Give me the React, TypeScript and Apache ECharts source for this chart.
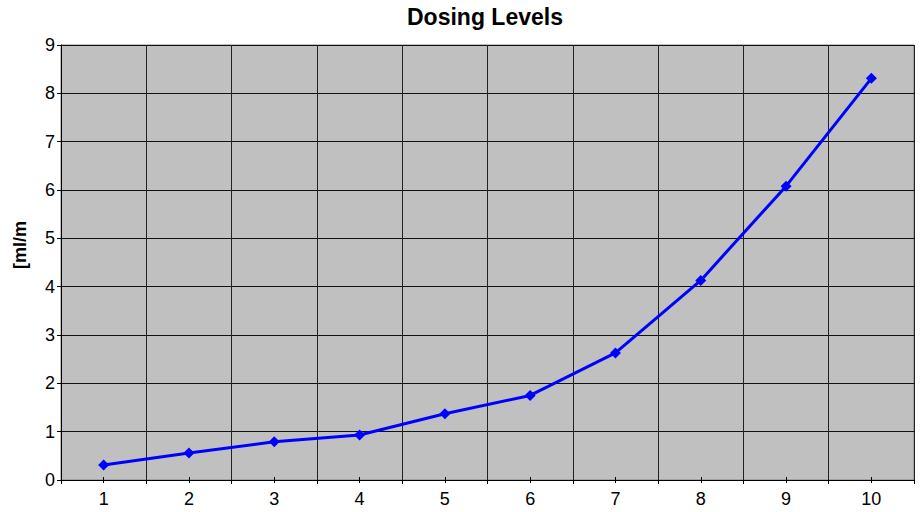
import React, { useEffect, useRef } from "react";
import * as echarts from "echarts";

const categories = ["1", "2", "3", "4", "5", "6", "7", "8", "9", "10"];
const dosing = [0.31, 0.56, 0.79, 0.93, 1.37, 1.75, 2.63, 4.13, 6.08, 8.31];
const titleText = "Dosing Levels";
const yAxisName = "[ml/m";

export default function App() {
  const ref = useRef<HTMLDivElement>(null);
  useEffect(() => {
    document.body.style.margin = "0";
    if (!ref.current) return;
    const chart = echarts.init(ref.current, undefined, { renderer: "svg" });
    const font = "Liberation Sans, Arial, sans-serif";
    chart.setOption({
      animation: false,
      backgroundColor: "#ffffff",
      textStyle: { fontFamily: font },
      title: {
        text: titleText,
        left: 402,
        top: 0,
        textStyle: { fontSize: 23, fontWeight: "bold", color: "#000", fontFamily: font },
      },
      graphic: [
        {
          type: "text",
          x: 20,
          y: 245,
          rotation: Math.PI / 2,
          style: {
            text: yAxisName,
            fontSize: 18,
            fontWeight: "bold",
            fontFamily: font,
            fill: "#000",
            textAlign: "center",
            textVerticalAlign: "middle",
          },
        },
      ],
      grid: {
        left: 61,
        right: 9,
        top: 45,
        bottom: 32,
        show: true,
        backgroundColor: "#C0C0C0",
        borderColor: "#808080",
        borderWidth: 1,
      },
      xAxis: [
        {
          type: "category",
          data: categories,
          boundaryGap: true,
          axisLine: { lineStyle: { color: "#000", width: 1 } },
          axisTick: { show: true, length: 4, lineStyle: { color: "#000" } },
          axisLabel: { color: "#000", fontSize: 18, margin: 10, fontFamily: font },
          splitLine: { show: true, lineStyle: { color: "#222", width: 1 } },
        },
        {
          type: "category",
          data: categories,
          position: "bottom",
          offset: -3,
          boundaryGap: true,
          axisLine: { show: false },
          axisTick: { show: true, alignWithLabel: true, length: 6, lineStyle: { color: "#000" } },
          axisLabel: { show: false },
          splitLine: { show: false },
        },
      ],
      yAxis: {
        type: "value",
        min: 0,
        max: 9,
        interval: 1,
        axisLine: { show: true, lineStyle: { color: "#000", width: 1 } },
        axisTick: { show: true, length: 4, lineStyle: { color: "#000" } },
        axisLabel: { color: "#000", fontSize: 18, margin: 6, fontFamily: font },
        splitLine: { show: true, lineStyle: { color: "#111", width: 1 } },
      },
      series: [
        {
          type: "line",
          data: dosing,
          xAxisIndex: 0,
          symbol: "diamond",
          symbolSize: 11,
          lineStyle: { color: "#0000FF", width: 3 },
          itemStyle: { color: "#0000FF" },
        },
      ],
    });
    return () => chart.dispose();
  }, []);
  return <div ref={ref} style={{ width: 923, height: 512 }} />;
}
